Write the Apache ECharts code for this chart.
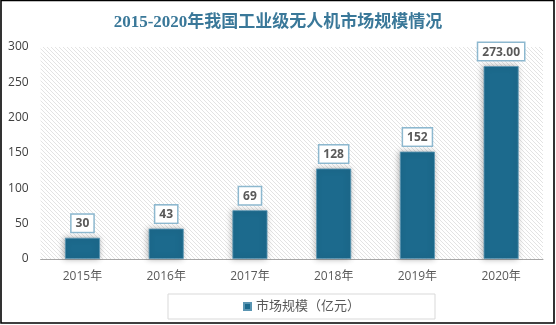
<!DOCTYPE html>
<html>
<head>
<meta charset="utf-8">
<style>
  html, body { margin: 0; padding: 0; background: #fff; }
  #chart { width: 556px; height: 325px; }
</style>
<script src="https://cdn.jsdelivr.net/npm/echarts@6/dist/echarts.min.js"></script>
</head>
<body>
<div id="chart"></div>
<script>
// Market size of industrial drones in China, 2015–2020 (100 million yuan)
const titleText = '2015-2020年我国工业级无人机市场规模情况';
const seriesName = '市场规模（亿元）';
const years = ['2015年', '2016年', '2017年', '2018年', '2019年', '2020年'];
const marketSize = [30, 43, 69, 128, 152, 273];
const labelDecimals = [0, 0, 0, 0, 0, 2];
const yTicks = { min: 0, max: 300, step: 50 };

// Diagonal hatch used as the plot-area background
function hatchPattern() {
  const s = 4;
  const c = document.createElement('canvas');
  c.width = s; c.height = s;
  const g = c.getContext('2d');
  g.fillStyle = '#ffffff';
  g.fillRect(0, 0, s, s);
  g.strokeStyle = '#e3e3e3';
  g.lineWidth = 1;
  g.beginPath();
  g.moveTo(-1, -1); g.lineTo(s + 1, s + 1);
  g.moveTo(-1, s - 1); g.lineTo(1, s + 1);
  g.moveTo(s - 1, -1); g.lineTo(s + 1, 1);
  g.stroke();
  return { image: c, repeat: 'repeat' };
}

const chart = echarts.init(document.getElementById('chart'), null, { renderer: 'canvas' });
const axisFont = "'Open Sans', 'Noto Sans CJK SC', sans-serif";

chart.setOption({
  animation: false,
  backgroundColor: '#ffffff',
  title: {
    text: titleText,
    left: 'center',
    top: 9,
    textStyle: {
      fontFamily: "'Liberation Serif', 'Noto Sans CJK SC', serif",
      fontSize: 17,
      fontWeight: 'bold',
      color: '#3a7899'
    }
  },
  grid: {
    left: 40.6,
    right: 13,
    top: 47,
    bottom: 66,
    show: true,
    borderWidth: 0,
    backgroundColor: hatchPattern()
  },
  legend: {
    data: [seriesName],
    left: 168,
    top: 294,
    icon: 'rect',
    itemWidth: 7,
    itemHeight: 7,
    itemGap: 5,
    padding: [6, 75],
    borderColor: '#d9d9d9',
    borderWidth: 1,
    textStyle: { fontFamily: axisFont, fontSize: 13, color: '#595959' }
  },
  xAxis: {
    type: 'category',
    data: years,
    axisLine: { lineStyle: { color: '#a6a6a6', width: 1 } },
    axisTick: { show: false },
    axisLabel: { margin: 12, fontFamily: axisFont, fontSize: 12, color: '#595959' }
  },
  yAxis: {
    type: 'value',
    min: yTicks.min,
    max: yTicks.max,
    interval: yTicks.step,
    axisLine: { show: false },
    axisTick: { show: false },
    splitLine: { show: false },
    axisLabel: { margin: 12, fontFamily: axisFont, fontSize: 12, color: '#404040' }
  },
  series: [{
    name: seriesName,
    type: 'bar',
    data: marketSize,
    barWidth: 35,
    itemStyle: {
      color: '#1c6a8d',
      borderColor: '#5a95b2',
      borderWidth: 0.8,
      shadowColor: 'rgba(0,0,0,0.28)',
      shadowBlur: 6,
      shadowOffsetX: -1,
      shadowOffsetY: 0
    },
    label: {
      show: true,
      position: 'top',
      distance: 6,
      formatter: p => p.value.toFixed(labelDecimals[p.dataIndex]),
      fontFamily: axisFont,
      fontSize: 12,
      fontWeight: 'bold',
      color: '#595959',
      backgroundColor: '#ffffff',
      borderColor: '#8db8cf',
      borderWidth: 1.5,
      padding: [3, 4, 2, 4]
    }
  }],
  graphic: [{
    type: 'rect',
    silent: true,
    z: 100,
    shape: { x: 1, y: 0.5, width: 553, height: 322.5 },
    style: { fill: 'none', stroke: '#000000', lineWidth: 1.6 }
  }]
});
</script>
</body>
</html>
